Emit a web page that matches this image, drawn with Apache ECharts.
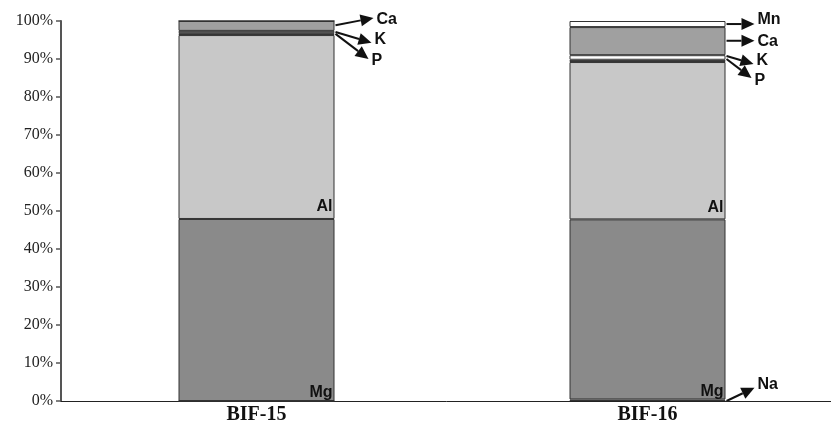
<!DOCTYPE html>
<html><head><meta charset="utf-8">
<script src="https://cdn.jsdelivr.net/npm/echarts@6/dist/echarts.min.js"></script>
<style>html,body{margin:0;padding:0;background:#fff}#c{width:831px;height:439px}</style>
</head><body><div id="c"></div>
<script>
var categories = ['BIF-15', 'BIF-16'];
var seriesNames = ['Na', 'Mg', 'Al', 'P', 'K', 'Ca', 'Mn'];
var Na = [0, 0.4];
var Mg = [47.9, 47.4];
var Al = [48.4, 41.4];
var P  = [0.5, 0.6];
var K  = [0.6, 1.2];
var Ca = [2.6, 7.4];
var Mn = [0, 1.6];
var yTicks = [0, 10, 20, 30, 40, 50, 60, 70, 80, 90, 100];
var colors = {Na:'#f4f4f4', Mg:'#8a8a8a', Al:'#c8c8c8', P:'#222222', K:'#ffffff', Ca:'#a0a0a0', Mn:'#ffffff'};
var values = {Na:Na, Mg:Mg, Al:Al, P:P, K:K, Ca:Ca, Mn:Mn};

var chart = echarts.init(document.getElementById('c'));
var series = seriesNames.map(function(n){
  var s = {
    name: n, type: 'bar', stack: 'all', barWidth: 156,
    data: values[n],
    itemStyle: {color: colors[n], borderColor: '#333', borderWidth: 1},
    silent: true
  };
  if (n === 'Mg') s.label = {show: true, position: 'insideBottomRight', formatter: 'Mg', offset:[0,2],
    fontFamily: 'Liberation Sans', fontWeight: 'bold', fontSize: 16, color: '#111', distance: 2};
  if (n === 'Al') s.label = {show: true, position: 'insideBottomRight', formatter: 'Al', offset:[0,-2],
    fontFamily: 'Liberation Sans', fontWeight: 'bold', fontSize: 16, color: '#111', distance: 2};
  return s;
});

chart.setOption({
  animation: false,
  grid: {left: 61, top: 21, width: 782, height: 380, outerBoundsMode: 'none', containLabel: false},
  xAxis: {
    type: 'category', data: categories,
    axisLine: {lineStyle: {color: '#222', width: 1}},
    axisTick: {show: false},
    axisLabel: {fontFamily: 'Liberation Serif', fontWeight: 'bold', fontSize: 20, color: '#111', margin: 4}
  },
  yAxis: {
    type: 'value', min: 0, max: 100, interval: 10,
    axisLine: {show: true, lineStyle: {color: '#555', width: 2}},
    axisTick: {show: true, inside: false, length: 5, lineStyle: {color: '#555', width: 1.5}},
    splitLine: {show: false},
    axisLabel: {fontFamily: 'Liberation Serif', fontSize: 16, color: '#222', margin: 8,
      formatter: function(v){ return yTicks.indexOf(v) >= 0 ? v + '%' : ''; }}
  },
  series: series
});

// annotations: [categoryIndex, series name, value at arrow start (%), label y (%), label text, arrow end dx, arrow end y (%)]
var annotations = [
  [0, 'Ca', 98.9, 100.3, 'Ca', 38, 100.8],
  [0, 'K', 97.1, 95.2, 'K', 36, 94.3],
  [0, 'P', 96.6, 89.6, 'P', 33, 90.0],
  [1, 'Mn', 99.2, 100.3, 'Mn', 28, 99.2],
  [1, 'Ca', 94.8, 94.6, 'Ca', 28, 94.8],
  [1, 'K', 90.8, 89.5, 'K', 27, 88.7],
  [1, 'P', 90.0, 84.3, 'P', 25, 85.0],
  [1, 'Na', 0.0, 4.3, 'Na', 28, 3.5]
];
var half = 78;
var graphics = [];
annotations.forEach(function(a){
  var cx = chart.convertToPixel({xAxisIndex: 0}, categories[a[0]]);
  var x0 = cx + half + 1;
  var y0 = chart.convertToPixel({yAxisIndex: 0}, a[2]);
  var x1 = x0 + a[5];
  var y1 = chart.convertToPixel({yAxisIndex: 0}, a[6]);
  var ang = Math.atan2(y1 - y0, x1 - x0);
  var L = 13, W = 6;
  var bx = x1 - L * Math.cos(ang), by = y1 - L * Math.sin(ang);
  graphics.push({type: 'line', shape: {x1: x0, y1: y0, x2: bx, y2: by}, style: {stroke: '#111', lineWidth: 2}});
  graphics.push({type: 'polygon', shape: {points: [
    [x1, y1],
    [bx + W * Math.sin(ang), by - W * Math.cos(ang)],
    [bx - W * Math.sin(ang), by + W * Math.cos(ang)]
  ]}, style: {fill: '#111'}});
  var ly = chart.convertToPixel({yAxisIndex: 0}, a[3]);
  graphics.push({type: 'text', x: x1 + 3, y: ly, style: {text: a[4], fill: '#111',
    font: 'bold 16px "Liberation Sans"', verticalAlign: 'middle', align: 'left'}});
});
chart.setOption({graphic: graphics});
</script></body></html>
